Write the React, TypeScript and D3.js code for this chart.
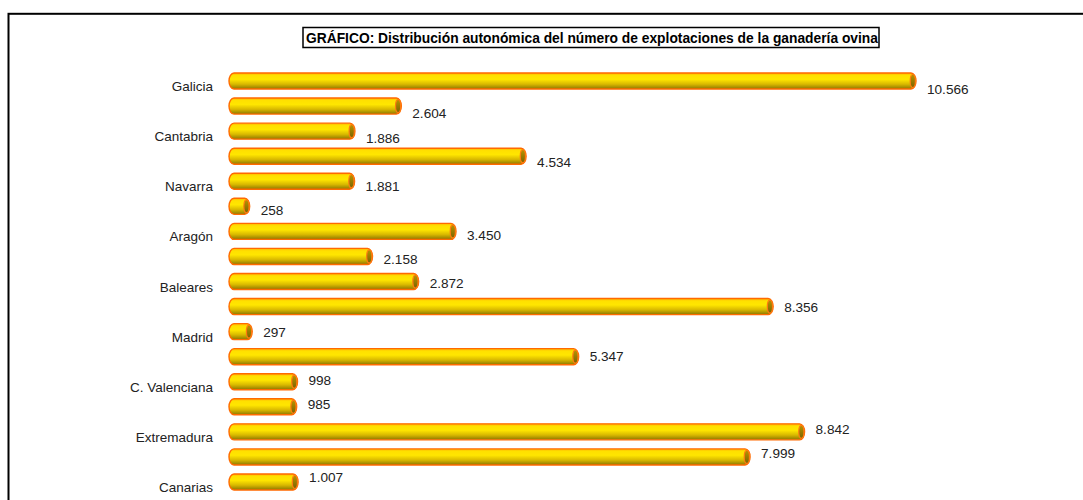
import React from "react";
import * as d3 from "d3";

const categories = [
  "Galicia", "Asturias", "Cantabria", "País Vasco", "Navarra", "La Rioja",
  "Aragón", "Cataluña", "Baleares", "Castilla y León", "Madrid",
  "Castilla-La Mancha", "C. Valenciana", "Murcia", "Extremadura", "Andalucía", "Canarias",
];
const values = [10566, 2604, 1886, 4534, 1881, 258, 3450, 2158, 2872, 8356, 297, 5347, 998, 985, 8842, 7999, 1007];
const shownLabels = ["Galicia", "Cantabria", "Navarra", "Aragón", "Baleares", "Madrid", "C. Valenciana", "Extremadura", "Canarias"];
const title = "GRÁFICO: Distribución autonómica del número de explotaciones de la ganadería ovina";

const W = 1083;
const H = 500;

const locale = d3.formatLocale({ decimal: ",", thousands: ".", grouping: [3], currency: ["", "€"] });
const fmt = locale.format(",d");

export default function App() {
  const x = d3.scaleLinear().domain([0, d3.max(values) as number]).range([233, 916]);
  const y = d3.scaleBand<string>().domain(categories).range([68.5, 494.5]).paddingInner(0.36).paddingOuter(0.18);
  const yLab = d3.scalePoint<string>().domain(categories).range([94, 482]);
  const bh = y.bandwidth();
  const font = "Arial, 'Liberation Sans', Helvetica, sans-serif";

  return (
    <svg width={W} height={H} style={{ position: "absolute", left: 0, top: 0, background: "#fff" }}>
      <defs>
        <linearGradient id="cyl" x1="0" y1="0" x2="0" y2="1">
          <stop offset="0" stopColor="#FFB300" />
          <stop offset="0.15" stopColor="#FFE000" />
          <stop offset="0.4" stopColor="#FFE600" />
          <stop offset="0.7" stopColor="#D8B800" />
          <stop offset="1" stopColor="#8C7600" />
        </linearGradient>
        <linearGradient id="cap" x1="0" y1="0" x2="0" y2="1">
          <stop offset="0" stopColor="#B89400" />
          <stop offset="1" stopColor="#7A6400" />
        </linearGradient>
      </defs>
      <rect x={8.5} y={13.8} width={1100} height={600} fill="none" stroke="#000" strokeWidth={2} />
      <rect x={303} y={27.5} width={576} height={20} fill="#fff" stroke="#000" strokeWidth={1.5} />
      <text x={592} y={42.5} textAnchor="middle" fontFamily={font} fontWeight="bold" fontSize={13.8} fill="#000">
        {title}
      </text>
      {categories.map((c, i) => {
        const y0 = y(c) as number;
        const x0 = x(0) - 4;
        const xe = x(values[i]);
        const r = bh / 2;
        return (
          <g key={c}>
            <rect x={x0} y={y0} width={xe - x0} height={bh} rx={5} ry={r}
              fill="url(#cyl)" stroke="#FF6A00" strokeWidth={1.4} />
            <ellipse cx={xe - 3.2} cy={y0 + r} rx={2.6} ry={r - 1.5}
              fill="url(#cap)" stroke="#FF7A10" strokeWidth={1.2} />
            <text x={xe + 11} y={yLab(c) as number} fontFamily={font} fontSize={13.6} fill="#222">
              {fmt(values[i])}
            </text>
          </g>
        );
      })}
      {shownLabels.map((c) => (
        <text key={c} x={213} y={(y(c) as number) + bh / 2 + 10} textAnchor="end"
          fontFamily={font} fontSize={13.5} fill="#222">
          {c}
        </text>
      ))}
    </svg>
  );
}
